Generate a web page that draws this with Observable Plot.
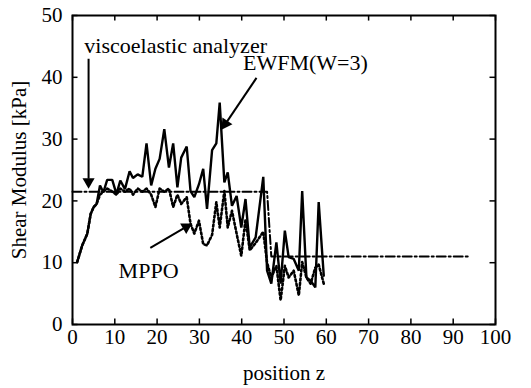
<!DOCTYPE html>
<html>
<head>
<meta charset="utf-8">
<script src="https://cdn.jsdelivr.net/npm/d3@7"></script>
<script src="https://cdn.jsdelivr.net/npm/@observablehq/plot@0.6"></script>
<style>
  html, body { margin: 0; padding: 0; background: #fff; }
  svg text { font-family: "Liberation Serif", "Times New Roman", Tinos, "DejaVu Serif", serif !important; }
</style>
</head>
<body>
<div id="chart"></div>
<script>
// ---- data ----
const zEWFM = [1.1,2.3,3.5,4.3,5.0,5.7,6.5,7.3,8.2,9.4,10.4,11.3,12.4,13.5,14.3,15.4,16.5,17.5,18.6,19.6,20.6,21.7,22.8,23.8,24.8,25.7,27.0,27.9,28.8,29.9,30.9,31.8,33.0,34.0,34.8,35.9,36.7,37.7,38.8,39.9,40.9,41.9,43.3,45.1,46.0,47.0,48.2,49.2,50.2,51.1,52.3,53.5,54.3,55.3,56.3,57.4,58.2,59.4];
const vEWFM = [10.1,12.8,14.7,17.9,19.0,19.5,22.5,21.4,23.4,23.4,21.1,23.3,21.9,24.8,23.7,24.3,23.9,29.3,22.5,25.2,26.8,31.6,25.4,29.3,22.2,27.0,28.8,21.6,20.6,22.7,25.2,18.7,28.2,29.3,35.9,23.0,24.6,19.2,20.8,15.7,20.3,12.5,14.1,23.9,8.7,6.6,13.3,6.6,15.2,10.9,10.6,8.7,21.6,7.6,7.1,6.0,19.8,7.9];
const zMPPO = zEWFM;
const vMPPO = [10.1,12.8,14.7,17.9,19.0,19.5,21.0,21.5,22.0,21.5,21.0,22.0,21.5,22.0,21.0,22.0,21.5,22.0,21.0,19.0,22.0,21.5,22.0,19.0,21.0,19.5,20.6,16.3,14.7,16.8,13.0,12.8,14.5,19.8,15.7,21.6,15.7,18.4,14.7,11.1,17.0,12.0,13.2,15.0,10.0,7.6,9.5,3.9,9.5,7.6,8.7,4.7,10.1,7.6,6.6,9.2,9.7,6.6];
const zVisco = [0, 46, 47, 94];
const vVisco = [21.5, 21.5, 11, 11];

const xTicks = [0,10,20,30,40,50,60,70,80,90,100];
const yTicks = [0,10,20,30,40,50];

const annoText = ["viscoelastic analyzer", "EWFM(W=3)", "MPPO"];
const annoX = [2.8, 40.3, 10.9];
const annoY = [45.1, 42.3, 8.7];
// arrows: start -> tip
const arrowX1 = [3.8, 43.5, 18.4];
const arrowY1 = [43.0, 39.9, 12.4];
const arrowX2 = [3.8, 35.5, 27.9];
const arrowY2 = [22.3, 31.8, 16.2];

// ---- layout ----
const W = 531, H = 388, mL = 72, mR = 36, mT = 15, mB = 64;
const kx = (W - mL - mR) / 100, ky = (H - mT - mB) / 50;

const tbl = (zs, vs) => zs.map((z, i) => ({z, v: vs[i]}));
const ewfm = tbl(zEWFM, vEWFM);
const mppo = tbl(zMPPO, vMPPO);
const visco = tbl(zVisco, vVisco);
const annos = annoText.map((t, i) => ({t, x: annoX[i], y: annoY[i]}));
const arrows = arrowX1.map((x1, i) => {
  const dxp = (arrowX2[i] - x1) * kx, dyp = -(arrowY2[i] - arrowY1[i]) * ky;
  const L = Math.hypot(dxp, dyp), ux = dxp / L, uy = dyp / L;
  const back = (px) => ({x: arrowX2[i] - ux * px / kx, y: arrowY2[i] + uy * px / ky});
  const head = back(5), end = back(8);
  return {x1, y1: arrowY1[i], x2: end.x, y2: end.y, hx: head.x, hy: head.y,
          rot: Math.atan2(ux, -uy) * 180 / Math.PI};
});

const font = "Liberation Serif, Times New Roman, DejaVu Serif, serif";

const chart = Plot.plot({
  width: W, height: H,
  marginLeft: mL, marginRight: mR, marginTop: mT, marginBottom: mB,
  style: {fontFamily: font, fontSize: "22px", color: "black", background: "white"},
  x: {domain: [0, 100]},
  y: {domain: [0, 50]},
  marks: [
    Plot.axisX({anchor: "bottom", ticks: xTicks, tickSize: 0, tickPadding: 5, tickFormat: d => d,
      fontSize: 21, fontFamily: font, label: "position z", labelAnchor: "center", labelArrow: "none", labelOffset: 55}),
    Plot.axisY({anchor: "left", ticks: yTicks, tickSize: 0, tickPadding: 10, tickFormat: d => d,
      fontSize: 21, fontFamily: font, label: "Shear Modulus [kPa]", labelAnchor: "center", labelArrow: "none", labelOffset: 61}),
    // inward ticks
    Plot.ruleX(xTicks, {x: d => d, y1: 0, y2: 0.9, stroke: "black", strokeWidth: 1.5}),
    Plot.ruleX(xTicks, {x: d => d, y1: 49.1, y2: 50, stroke: "black", strokeWidth: 1.5}),
    Plot.ruleY(yTicks, {y: d => d, x1: 0, x2: 1.3, stroke: "black", strokeWidth: 1.5}),
    Plot.ruleY(yTicks, {y: d => d, x1: 98.7, x2: 100, stroke: "black", strokeWidth: 1.5}),
    // series
    Plot.line(visco, {x: "z", y: "v", stroke: "black", strokeWidth: 2, strokeDasharray: "9,3,2,3"}),
    Plot.line(mppo, {x: "z", y: "v", stroke: "black", strokeWidth: 2.6, strokeDasharray: "2,2.5"}),
    Plot.line(ewfm, {x: "z", y: "v", stroke: "black", strokeWidth: 2.4, strokeLinejoin: "miter"}),
    // annotations
    Plot.link(arrows, {x1: "x1", y1: "y1", x2: "x2", y2: "y2", stroke: "black", strokeWidth: 2}),
    Plot.dot(arrows, {x: "hx", y: "hy", symbol: "triangle", r: 4.5, fill: "black", stroke: "none", rotate: "rot"}),
    Plot.text(annos, {x: "x", y: "y", text: "t", textAnchor: "start", fontSize: 22, fontFamily: font, fill: "black"}),
    Plot.frame({stroke: "black", strokeWidth: 2})
  ]
});
document.getElementById("chart").appendChild(chart);
</script>
</body>
</html>
